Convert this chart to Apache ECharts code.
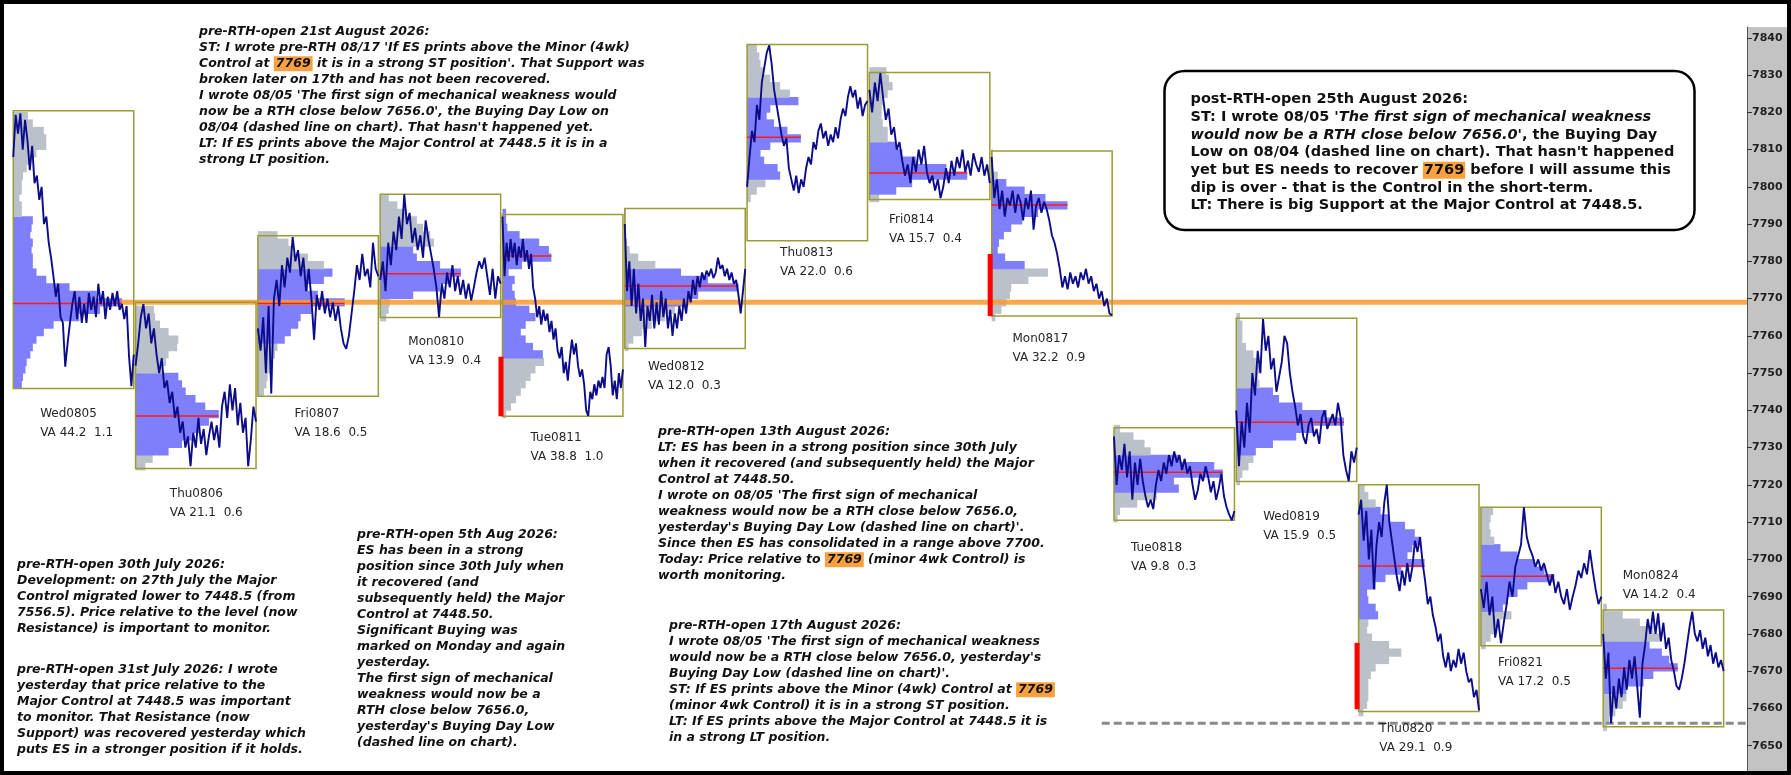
<!DOCTYPE html>
<html>
<head>
<meta charset="utf-8">
<title>ES RTH profiles</title>
<script src="https://cdn.jsdelivr.net/npm/echarts@6.0.0/dist/echarts.min.js"></script>
<style>
  html, body { margin: 0; padding: 0; background: #fff; }
  #main { width: 1791px; height: 775px; }
</style>
</head>
<body>
<div id="main"></div>
<script>
// day names and value-area labels
var days = ['Wed0805', 'Thu0806', 'Fri0807', 'Mon0810', 'Tue0811', 'Wed0812', 'Thu0813',
            'Fri0814', 'Mon0817', 'Tue0818', 'Wed0819', 'Thu0820', 'Fri0821', 'Mon0824'];
var vaText = ['VA 44.2  1.1', 'VA 21.1  0.6', 'VA 18.6  0.5', 'VA 13.9  0.4', 'VA 38.8  1.0',
              'VA 12.0  0.3', 'VA 22.0  0.6', 'VA 15.7  0.4', 'VA 32.2  0.9', 'VA 9.8  0.3',
              'VA 15.9  0.5', 'VA 29.1  0.9', 'VA 17.2  0.5', 'VA 14.2  0.4'];

// day range boxes
var boxHigh = [7820.4, 7769.0, 7786.9, 7798.0, 7792.6, 7794.2, 7838.2, 7830.7, 7809.6, 7735.3, 7764.7, 7720.0, 7714.0, 7686.4];
var boxLow  = [7745.9, 7724.4, 7743.8, 7764.9, 7738.4, 7756.6, 7785.5, 7796.6, 7765.3, 7710.5, 7720.9, 7659.2, 7676.8, 7655.1];

// point of control and value area
var poc    = [7768.7, 7738.5, 7768.7, 7776.7, 7781.4, 7773.4, 7813.3, 7803.7, 7795.1, 7723.4, 7736.8, 7698.2, 7695.5, 7670.8];
var vaLow  = [7746.5, 7727.5, 7759.0, 7770.0, 7754.0, 7767.4, 7802.0, 7798.5, 7778.0, 7718.0, 7728.9, 7683.7, 7686.5, 7664.0];
var vaHigh = [7791.0, 7750.0, 7778.0, 7784.0, 7793.0, 7778.1, 7824.6, 7812.2, 7802.3, 7728.5, 7745.0, 7713.3, 7704.7, 7678.0];

// volume profile, 2 point bins upward from profStart
var profStart = [7746, 7724, 7744, 7764, 7738, 7756, 7796, 7796, 7764, 7710, 7720, 7658, 7676, 7654];
var profVol = [
  [7,8,10,11,14,16,19,25,33,54,71,89,68,46,27,19,16,16,15,16,14,15,16,7,7,5,7,7,8,11,14,19,27,27,25,16,12],
  [8,14,27,38,46,52,60,68,57,49,41,38,35,22,25,27,34,35,27,20,16,15],
  [5,7,8,11,12,14,16,22,27,33,35,44,71,49,41,54,61,54,41,27,25,16],
  [5,7,8,27,49,57,66,49,30,27,44,41,35,30,22,14,7],
  [3,7,11,15,19,23,27,34,33,25,19,15,19,27,22,11,10,8,10,5,16,40,38,30,14,4,3,3],
  [3,7,14,22,33,41,52,60,93,68,46,25,11,4,2,1,1,1,1],
  [3,8,15,27,25,14,11,19,44,33,22,16,19,42,35,27,19,14,11,10,8],
  [8,22,35,80,63,38,27,22,15,15,11,10,10,11,15,19,16,14],
  [3,8,12,15,16,30,46,27,11,5,6,10,16,25,38,62,44,27,12,5,1,1,1],
  [3,5,19,35,53,49,89,82,54,30,25,16,5],
  [3,5,10,14,16,30,49,63,88,74,54,35,30,19,18,19,16,14,8,5,5,5,3],
  [4,7,8,8,8,10,14,25,35,25,11,7,8,16,14,8,7,14,22,35,54,40,44,50,46,38,25,18,14,8,5],
  [4,8,11,16,25,18,22,30,38,60,52,44,30,16,11,8,7,8,10],
  [3,5,10,16,19,19,33,41,61,54,48,38,46,41,30,16,3]
];

// RTH price paths, evenly spaced through each day
var p0805 = [7808,7819.3,7814.3,7819.7,7810,7818,7812.5,7804.5,7811,7801,7803,7796.5,7800,7790,7792,7785,7781,7776,7770.5,7774,7765,7763.5,7751.7,7758,7763.5,7768.5,7772,7764.5,7770.5,7763.5,7768.5,7763.5,7771.5,7767,7770.5,7765,7774,7768.5,7772,7764.5,7770.5,7767,7771.5,7768,7772,7767,7768.5,7764.5,7768,7754.5,7746.5,7755];
var p0806 = [7752,7758,7765,7768.5,7762,7766,7758,7762,7755,7750,7754,7746,7748,7742,7745,7738,7741,7734,7737,7730,7733,7725,7734,7730,7738,7731,7735,7728,7733,7737,7732,7736,7730,7741,7745,7738,7747,7740,7746,7736,7742,7734,7738,7725,7732,7741,7737];
var p0807 = [7762,7756,7765,7750,7768,7744.5,7770,7775,7768,7779,7773,7781,7777,7786.5,7780,7783,7776,7781,7772,7778,7770,7759,7771,7767,7772,7766,7770,7765,7769,7764,7768,7762,7758,7756.5,7760,7766,7772,7779,7775,7782,7776,7778,7773,7785,7778,7776];
var p0810 = [7775,7780,7772,7785,7779,7788,7783,7792,7786,7798,7790,7793,7785,7789,7783,7787,7781,7791,7786,7782,7778,7773,7765,7774,7770,7777,7773,7779,7772,7776,7771,7775,7770,7774,7769.5,7773,7777,7780,7778,7781,7776,7771,7778,7770,7776,7774];
var p0811 = [7792,7776,7785,7780,7786,7781,7785,7779,7784,7781,7786,7780,7783,7778,7782,7773,7770,7765,7768,7763,7767,7764,7766,7761,7764,7759,7762,7756,7754,7757,7750,7753,7748,7754,7759,7755,7758,7752,7749,7751,7747,7740,7738.5,7745,7743,7747,7744,7748,7746,7749,7746,7755,7757,7752,7744,7748,7743,7750,7746,7751];
var p0812 = [7790,7772,7780,7768,7778,7766,7774,7764,7770,7757,7768,7764,7771,7762,7769,7763,7772,7765,7770,7762,7767,7760,7766,7762,7768,7764,7770,7766,7772,7769,7775,7771,7776,7773,7777,7775,7777.5,7776,7778,7775.5,7777,7781,7778,7779,7776,7778,7775,7777,7774,7775,7771,7766,7772,7778];
var p0813 = [7800,7808,7815,7812,7822,7818,7828,7832,7836,7838,7833,7826,7822,7818,7814,7811,7813,7805,7802,7799,7803,7798.3,7802,7800,7805,7808,7806,7812,7810,7815,7817,7813,7815,7811,7814,7812,7816,7813,7818,7821,7819,7824,7827,7824,7826,7821,7824,7819,7822,7823];
var p0814 = [7826,7820,7828,7823,7830.5,7824,7818,7821,7814,7816,7810,7812,7807,7803,7806,7801,7808,7804,7810,7806,7811,7804,7801,7803,7799,7802,7797,7800,7805,7801,7807,7803,7808,7805,7810,7804,7807,7803,7809,7806,7804,7808,7803,7806,7801];
var p0817 = [7808,7797,7802,7794,7799,7792,7797,7795,7799,7793,7798,7796,7791,7797,7794,7799,7788.5,7795,7797,7793,7796,7794,7791,7787,7785,7782,7778,7773,7776,7772.5,7777,7774,7776,7773,7777,7775,7778,7774,7776,7772,7774,7770,7772,7768,7770,7766,7765.5];
var p0818 = [7733,7720,7728,7724,7731,7722,7729,7716,7726,7720,7727,7721,7717,7714,7716,7713.5,7720,7724,7721,7726,7723,7728,7725,7729,7726,7728,7724,7727,7723,7725,7720,7716,7718.5,7723,7721,7725,7722,7718,7721,7716,7719,7723,7717,7714,7712,7710.5,7713];
var p0819 = [7740,7725,7737,7730,7742,7734,7750,7744,7756,7750,7764.5,7756,7760,7751,7754,7745,7749,7753,7760,7758,7750,7745,7741,7736,7739,7733,7731,7736,7738,7733,7735,7731,7738,7740,7735,7737,7739,7736,7742,7738,7728,7724,7721,7729,7726,7730];
var p0820 = [7712,7716,7705,7713,7700,7708,7692,7704,7710,7706,7715,7720,7710,7705,7700,7695,7691.5,7697,7693,7699,7694,7698,7705,7702,7706,7699,7694,7688,7690,7685,7682,7678,7680,7674,7671,7675,7670,7673,7671,7676,7672,7675,7670,7667,7668,7663,7665,7659.5];
var p0821 = [7692,7687,7694,7685,7690,7679,7684,7677.5,7683,7688,7694,7690,7698,7701,7704,7714,7706,7703,7701,7698,7700,7697,7699,7696,7693,7696,7691,7694,7690,7688,7692,7686.5,7690,7693,7697,7695,7699,7696,7702.5,7697,7692,7688,7690];
var p0824 = [7680,7668,7675,7656,7666,7660,7668,7663,7671,7665,7673,7668,7674,7666,7657.5,7672,7677,7684,7680,7686,7680,7685.5,7678,7683,7676,7679,7673,7670,7666,7665,7668,7672,7677,7682,7686,7680,7678,7681,7676,7679,7674,7677,7672,7675,7671,7673,7670];
var paths = [p0805, p0806, p0807, p0810, p0811, p0812, p0813, p0814, p0817, p0818, p0819, p0820, p0821, p0824];

// single prints: [day, low, high]
var singlePrints = [[4, 7738.4, 7754.4], [8, 7765.3, 7782.0], [11, 7659.8, 7677.6]];

var control4wk = 7769;
var buyingDayLow = 7656;
var yTicks = [7650,7660,7670,7680,7690,7700,7710,7720,7730,7740,7750,7760,7770,7780,7790,7800,7810,7820,7830,7840];

// layout
var X_MIN = -0.084, X_MAX = 14.176;
var Y_MIN = 7643.2, Y_MAX = 7842.9;
var BOXW = 0.985;
var labelAt = [7739, 7717.5, 7739, 7758.4, 7732.6, 7751.7, 7782.2, 7791.1, 7759.2, 7703, 7711.3, 7654.4, 7672.3, 7695.5];
var labelDx = [0.22, 0.28, 0.30, 0.23, 0.23, 0.19, 0.27, 0.16, 0.17, 0.14, 0.22, 0.17, 0.14, 0.16];
var orangeFrom = 0.88, dashFrom = 8.9;

var chart = echarts.init(document.getElementById('main'));

// profile bins
var profData = [];
profVol.forEach(function (vols, d) {
  vols.forEach(function (v, k) {
    var lo = profStart[d] + 2 * k;
    var mid = lo + 1;
    profData.push([d, lo, lo + 2, v, (mid >= vaLow[d] && mid <= vaHigh[d]) ? 1 : 0]);
  });
});

var boxData = days.map(function (n, d) { return [d, boxLow[d], boxHigh[d]]; });
var pocData = days.map(function (n, d) { return [d, poc[d], Math.max.apply(null, profVol[d])]; });
var labelData = days.map(function (n, d) { return [d, labelAt[d]]; });

var series = [];

// volume profiles
series.push({
  type: 'custom', z: 1, silent: true, animation: false,
  renderItem: function (params, api) {
    var d = api.value(0), v = api.value(3);
    var a = api.coord([d, api.value(2)]);
    var b = api.coord([d + v / 100, api.value(1)]);
    return {
      type: 'rect',
      shape: { x: a[0], y: a[1] - 0.4, width: b[0] - a[0], height: b[1] - a[1] + 0.8 },
      style: { fill: api.value(4) ? '#7f7ffc' : '#bac1c9' }
    };
  },
  data: profData
});

// 4wk control
series.push({
  type: 'line', z: 2, silent: true, animation: false, symbol: 'none',
  lineStyle: { color: '#f99b2e', width: 5, opacity: 0.85 },
  data: [[orangeFrom, control4wk], [X_MAX, control4wk]]
});

// buying day low
series.push({
  type: 'line', z: 2, silent: true, animation: false, symbol: 'none',
  lineStyle: { color: '#8a8a8a', width: 3, type: [8, 4] },
  data: [[dashFrom, buyingDayLow], [X_MAX, buyingDayLow]]
});

// day boxes
series.push({
  type: 'custom', z: 3, silent: true, animation: false,
  renderItem: function (params, api) {
    var d = api.value(0);
    var a = api.coord([d, api.value(2)]);
    var b = api.coord([d + BOXW, api.value(1)]);
    return {
      type: 'rect',
      shape: { x: a[0], y: a[1], width: b[0] - a[0], height: b[1] - a[1] },
      style: { fill: 'none', stroke: '#9b9b38', lineWidth: 1.5 }
    };
  },
  data: boxData
});

// POC lines
series.push({
  type: 'custom', z: 4, silent: true, animation: false,
  renderItem: function (params, api) {
    var d = api.value(0);
    var a = api.coord([d, api.value(1)]);
    var b = api.coord([d + api.value(2) / 100, api.value(1)]);
    return {
      type: 'line',
      shape: { x1: a[0], y1: a[1], x2: b[0], y2: b[1] },
      style: { stroke: '#ff1a1a', lineWidth: 1.5 }
    };
  },
  data: pocData
});

// price paths
paths.forEach(function (arr, d) {
  series.push({
    type: 'line', z: 5, silent: true, animation: false, symbol: 'none',
    lineStyle: { color: '#0c0c8a', width: 1.9 },
    data: arr.map(function (p, k) { return [d + k / (arr.length - 1) * BOXW, p]; })
  });
});

// single print bars
series.push({
  type: 'custom', z: 6, silent: true, animation: false,
  renderItem: function (params, api) {
    var d = api.value(0);
    var a = api.coord([d, api.value(2)]);
    var b = api.coord([d, api.value(1)]);
    return {
      type: 'rect',
      shape: { x: a[0] - 4, y: a[1], width: 5, height: b[1] - a[1] },
      style: { fill: '#ff0000' }
    };
  },
  data: singlePrints
});

// day labels
series.push({
  type: 'custom', z: 6, silent: true, animation: false,
  renderItem: function (params, api) {
    var d = api.value(0);
    var pt = api.coord([d + labelDx[d], api.value(1)]);
    var st = { fill: '#262626', font: '12px "DejaVu Sans"', align: 'left', verticalAlign: 'middle' };
    return {
      type: 'group',
      children: [
        { type: 'text', x: pt[0], y: pt[1], style: Object.assign({ text: days[d] }, st) },
        { type: 'text', x: pt[0], y: pt[1] + 19, style: Object.assign({ text: vaText[d] }, st) }
      ]
    };
  },
  data: labelData
});

// annotation text
var noteFont = 'italic bold 12.5px "DejaVu Sans"';
var hl = { backgroundColor: '#f9a03f', font: noteFont, fill: '#111', padding: [1, 2], lineHeight: 16 };

var note21 = [
  'pre-RTH-open 21st August 2026:',
  "ST: I wrote pre-RTH 08/17 'If ES prints above the Minor (4wk)",
  "Control at {hl|7769} it is in a strong ST position'. That Support was",
  'broken later on 17th and has not been recovered.',
  "I wrote 08/05 'The first sign of mechanical weakness would",
  "now be a RTH close below 7656.0', the Buying Day Low on",
  "08/04 (dashed line on chart). That hasn't happened yet.",
  'LT: If ES prints above the Major Control at 7448.5 it is in a',
  'strong LT position.'
];
var note30 = [
  'pre-RTH-open 30th July 2026:',
  'Development: on 27th July the Major',
  'Control migrated lower to 7448.5 (from',
  '7556.5). Price relative to the level (now',
  'Resistance) is important to monitor.'
];
var note31 = [
  'pre-RTH-open 31st July 2026: I wrote',
  'yesterday that price relative to the',
  'Major Control at 7448.5 was important',
  'to monitor. That Resistance (now',
  'Support) was recovered yesterday which',
  'puts ES in a stronger position if it holds.'
];
var note05 = [
  'pre-RTH-open 5th Aug 2026:',
  'ES has been in a strong',
  'position since 30th July when',
  'it recovered (and',
  'subsequently held) the Major',
  'Control at 7448.50.',
  'Significant Buying was',
  'marked on Monday and again',
  'yesterday.',
  'The first sign of mechanical',
  'weakness would now be a',
  'RTH close below 7656.0,',
  "yesterday's Buying Day Low",
  '(dashed line on chart).'
];
var note13 = [
  'pre-RTH-open 13th August 2026:',
  'LT: ES has been in a strong position since 30th July',
  'when it recovered (and subsequently held) the Major',
  'Control at 7448.50.',
  "I wrote on 08/05 'The first sign of mechanical",
  'weakness would now be a RTH close below 7656.0,',
  "yesterday's Buying Day Low (dashed line on chart)'.",
  'Since then ES has consolidated in a range above 7700.',
  'Today: Price relative to {hl|7769} (minor 4wk Control) is',
  'worth monitoring.'
];
var note17 = [
  'pre-RTH-open 17th August 2026:',
  "I wrote 08/05 'The first sign of mechanical weakness",
  "would now be a RTH close below 7656.0, yesterday's",
  "Buying Day Low (dashed line on chart)'.",
  'ST: If ES prints above the Minor (4wk) Control at {hl|7769}',
  '(minor 4wk Control) it is in a strong ST position.',
  'LT: If ES prints above the Major Control at 7448.5 it is',
  'in a strong LT position.'
];
var note25 = [
  'post-RTH-open 25th August 2026:',
  "ST: I wrote 08/05 {it|'The first sign of mechanical weakness}",
  "{it|would now be a RTH close below 7656.0'}, the Buying Day",
  "Low on 08/04 (dashed line on chart). That hasn't happened",
  'yet but ES needs to recover {hl|7769} before I will assume this',
  'dip is over - that is the Control in the short-term.',
  'LT: There is big Support at the Major Control at 7448.5.'
];

function note(lines, left, top) {
  return {
    type: 'text', left: left, top: top, z: 100, silent: true,
    style: { text: lines.join('\n'), font: noteFont, fill: '#111', lineHeight: 16, rich: { hl: hl } }
  };
}

var boxFont = 'bold 14.5px "DejaVu Sans"';

var option = {
  animation: false,
  backgroundColor: '#ffffff',
  grid: { left: 3, right: 44, top: 27, bottom: 4 },
  xAxis: { type: 'value', min: X_MIN, max: X_MAX, show: false },
  yAxis: {
    type: 'value', position: 'right', min: Y_MIN, max: Y_MAX,
    splitLine: { show: false },
    axisLine: { show: true, onZero: false, lineStyle: { color: '#555', width: 1 } },
    axisTick: { show: true, length: 5, lineStyle: { color: '#333' }, customValues: yTicks },
    axisLabel: {
      customValues: yTicks, color: '#1e1e1e', fontFamily: 'DejaVu Sans', fontSize: 11, fontWeight: 'bold', margin: 5,
      formatter: function (v) { return String(v); }
    }
  },
  graphic: [
    // axis strip
    { type: 'rect', z: -1, silent: true, shape: { x: 1747, y: 27, width: 42, height: 745 }, style: { fill: '#c3c3c3' } },
    // frame
    { type: 'rect', z: 120, silent: true, shape: { x: 2, y: 2, width: 1787, height: 771 }, style: { fill: 'none', stroke: '#000', lineWidth: 4 } },
    // rounded note box
    { type: 'rect', z: 99, silent: true, shape: { x: 1164.5, y: 71, width: 530, height: 159, r: 20 }, style: { fill: '#fff', stroke: '#000', lineWidth: 2.5 } },
    {
      type: 'text', left: 1190.5, top: 90.5, z: 100, silent: true,
      style: {
        text: note25.join('\n'), font: boxFont, fill: '#111', lineHeight: 17.7,
        rich: {
          it: { font: 'italic bold 14.5px "DejaVu Sans"', fill: '#111', lineHeight: 17.7 },
          hl: { font: boxFont, fill: '#111', backgroundColor: '#f9a03f', padding: [1, 1], lineHeight: 17.7 }
        }
      }
    },
    note(note21, 199, 23.7),
    note(note30, 17, 556.3),
    note(note31, 17, 661.3),
    note(note05, 357, 527),
    note(note13, 658, 423.7),
    note(note17, 669, 617.7)
  ],
  series: series
};

chart.setOption(option);
</script>
</body>
</html>
